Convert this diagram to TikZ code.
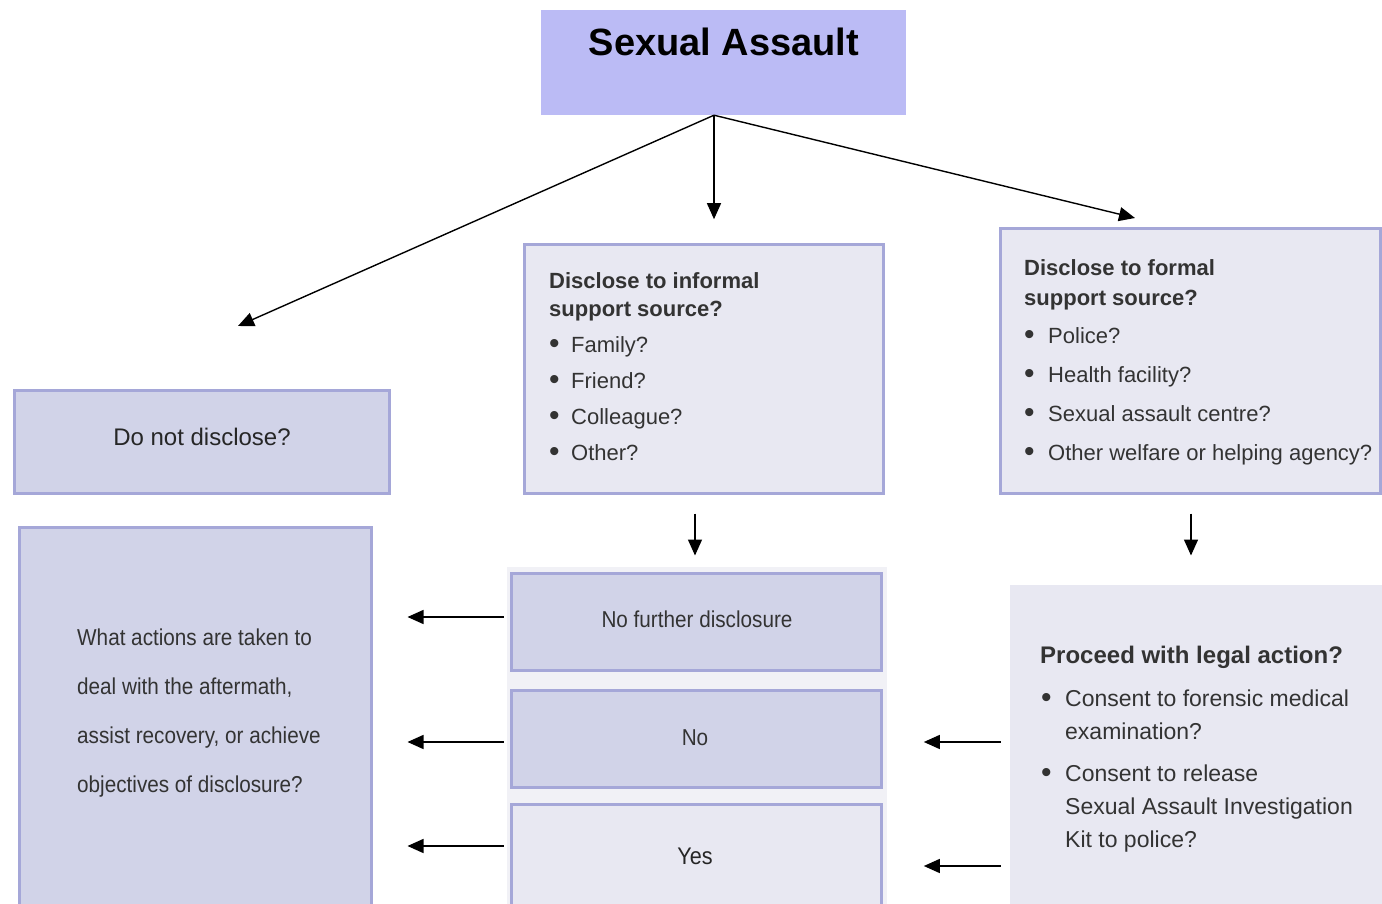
\documentclass[tikz,border=0pt]{standalone}
\usepackage{fontspec}
\setmainfont{Liberation Sans}
\newfontfamily\cond[FakeStretch=0.9]{Liberation Sans}
\usetikzlibrary{arrows.meta,calc}
\definecolor{topfill}{HTML}{BBBBF5}
\definecolor{darkfill}{HTML}{D1D3E8}
\definecolor{lightfill}{HTML}{E8E8F2}
\definecolor{boxline}{HTML}{A5A7D8}
\definecolor{backfill}{HTML}{F1F1F6}
\definecolor{txt}{HTML}{333333}
\newcommand\bigbul{\raisebox{-1.5pt}{\fontsize{30}{30}\selectfont\textbullet}}
\begin{document}
\begin{tikzpicture}[x=1pt,y=-1pt,
  box/.style={draw=boxline, line width=3pt, inner sep=0pt, rectangle},
  darkbox/.style={box, fill=darkfill},
  lightbox/.style={box, fill=lightfill},
  arr/.style={-{Triangle[length=16pt,width=14pt]}, line width=1.4pt},
  lbl/.style={inner sep=0pt, text=txt, anchor=base},
  body/.style={inner sep=0pt, text=txt, align=left, anchor=north west}]
\useasboundingbox (0,0) rectangle (1382,904);
\fill[white] (0,0) rectangle (1382,904);

% top
\node[fill=topfill, inner sep=0pt, minimum width=365pt, minimum height=105pt] (top) at (723.5,62.5) {};
\node[inner sep=0pt, anchor=base, font=\bfseries\fontsize{38}{40}\selectfont] (toptxt) at (724,55.5) {Sexual Assault};

% do not disclose
\node[darkbox, minimum width=375pt, minimum height=103pt] (dnd) at (201.5,441.5) {};
\node[lbl, text=black!85, font=\fontsize{24}{28}\selectfont] (dndtxt) at (202,445) {Do not disclose?};

% informal
\node[lightbox, minimum width=359pt, minimum height=248pt] (inf) at (703.5,369) {};
\node[body, font=\fontsize{22}{28}\selectfont] (inftxt) at (549,272) {%
{\bfseries Disclose to informal}\\
{\bfseries support source?}\\[8pt]
\makebox[22pt][l]{\bigbul}Family?\\[8pt]
\makebox[22pt][l]{\bigbul}Friend?\\[8pt]
\makebox[22pt][l]{\bigbul}Colleague?\\[8pt]
\makebox[22pt][l]{\bigbul}Other?};

% formal
\node[lightbox, minimum width=380pt, minimum height=264pt] (form) at (1190,361) {};
\node[body, font=\fontsize{22}{30}\selectfont] (formtxt) at (1024,259) {%
{\bfseries Disclose to formal}\\
{\bfseries support source?}\\[8pt]
\makebox[24pt][l]{\bigbul}Police?\\[9pt]
\makebox[24pt][l]{\bigbul}Health facility?\\[9pt]
\makebox[24pt][l]{\bigbul}Sexual assault centre?\\[9pt]
\makebox[24pt][l]{\bigbul}Other welfare or helping agency?};

% middle column
\fill[backfill] (507,567) rectangle (887,904);
\node[darkbox, minimum width=370pt, minimum height=97pt] (nf) at (696,621.5) {};
\node[lbl, font=\cond\fontsize{23}{28}\selectfont] (nftxt) at (697,627) {No further disclosure};
\node[darkbox, minimum width=370pt, minimum height=97pt] (no) at (696,738.5) {};
\node[lbl, font=\cond\fontsize{23}{28}\selectfont] (notxt) at (695,745) {No};
\node[lightbox, minimum width=370pt, minimum height=104pt] (yes) at (696,856) {};
\node[lbl, text=black!85, font=\cond\fontsize{24}{28}\selectfont] (yestxt) at (695,864) {Yes};

% left big box
\node[darkbox, minimum width=352pt, minimum height=390pt] (act) at (195,722) {};
\node[body, font=\cond\fontsize{23}{49}\selectfont] (acttxt) at (77,628.5) {%
What actions are taken to\\
deal with the aftermath,\\
assist recovery, or achieve\\
objectives of disclosure?};

% proceed box
\node[fill=lightfill, inner sep=0pt, minimum width=372pt, minimum height=325pt] (leg) at (1196,747.5) {};
\node[body, font=\fontsize{23}{33}\selectfont] (legtxt) at (1040,645.5) {%
{\bfseries\fontsize{24}{33}\selectfont Proceed with legal action?}\\[10pt]
\makebox[25pt][l]{\hspace{1pt}\bigbul}Consent to forensic medical\\
\hspace*{25pt}examination?\\[9pt]
\makebox[25pt][l]{\hspace{1pt}\bigbul}Consent to release\\
\hspace*{25pt}Sexual Assault Investigation\\
\hspace*{25pt}Kit to police?};

% connectors
\coordinate (src) at ($(top.south)+(-9.5,0)$);
\coordinate (t1) at (238,326);
\coordinate (t2) at ($(src)+(0,104)$);
\coordinate (t3) at (1135,218);
\draw[arr] (src) -- (t1);
\draw[arr] (src) -- (t2);
\draw[arr] (src) -- (t3);

\draw[arr] ($(inf.south)+(-8.5,19)$) -- ++(0,42);
\draw[arr] ($(form.south)+(1,19)$) -- ++(0,42);

\draw[arr] ($(nf.west)+(-6,-4.5)$) -- ++(-96,0);
\draw[arr] ($(no.west)+(-6,3.5)$) -- ++(-96,0);
\draw[arr] ($(yes.west)+(-6,-10)$) -- ++(-96,0);

\draw[arr] ($(leg.west)+(-9,-5.5)$) -- ++(-77,0);
\draw[arr] ($(leg.west)+(-9,118.5)$) -- ++(-77,0);
\end{tikzpicture}
\end{document}
